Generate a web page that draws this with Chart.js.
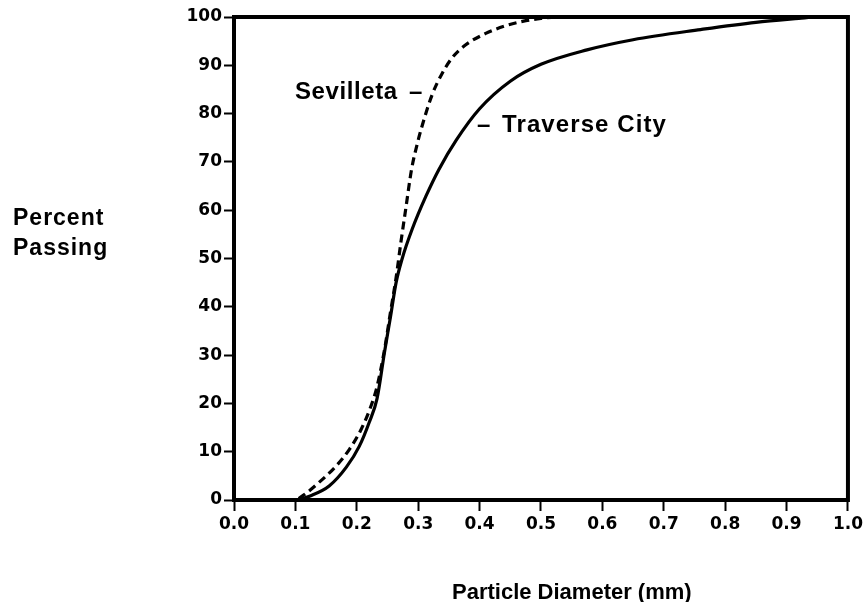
<!DOCTYPE html>
<html>
<head>
<meta charset="utf-8">
<script src="https://cdn.jsdelivr.net/npm/chart.js@4/dist/chart.umd.min.js"></script>
<style>
  html, body { margin: 0; padding: 0; background: #fff; }
  canvas { display: block; background: #fff; }
</style>
</head>
<body>
<canvas id="c" width="866" height="602"></canvas>
<script>
// Cumulative particle-size distributions (percent passing vs. diameter, mm)
const traverseX = [0, 0.10, 0.125, 0.155, 0.183, 0.204, 0.22, 0.233, 0.245, 0.255, 0.264, 0.274, 0.29, 0.313, 0.334, 0.362, 0.40, 0.45, 0.50, 0.575, 0.65, 0.76, 0.85, 0.92, 0.95, 1.0];
const traverseY = [0, 0, 0.9, 2.9, 6.8, 11.1, 16, 21, 30.5, 38, 45, 50, 56, 63, 68.5, 74.5, 81, 86.7, 90.2, 93.2, 95.3, 97.4, 98.9, 99.7, 100, 100];

const sevilletaX = [0, 0.10, 0.111, 0.139, 0.166, 0.188, 0.207, 0.223, 0.233, 0.245, 0.255, 0.264, 0.272, 0.28, 0.289, 0.299, 0.31, 0.323, 0.339, 0.355, 0.378, 0.41, 0.44, 0.47, 0.50, 0.53, 1.0];
const sevilletaY = [0, 0, 0.8, 3.7, 7, 10.5, 14.6, 19.4, 23.5, 31, 39, 46, 53.5, 60.5, 68.3, 74, 79, 84, 88.3, 91.5, 94.3, 96.6, 98.1, 99.1, 99.7, 100, 100];

const xTickLabels = ['0.0', '0.1', '0.2', '0.3', '0.4', '0.5', '0.6', '0.7', '0.8', '0.9', '1.0'];
const yTickLabels = ['0', '10', '20', '30', '40', '50', '60', '70', '80', '90', '100'];

const seriesNames = ['Traverse City', 'Sevilleta'];
const xTitle = 'Particle Diameter (mm)';
const yTitleLines = ['Percent', 'Passing'];

const toPoints = (xs, ys) => xs.map((x, i) => ({ x: x, y: ys[i] }));

const tickFont = { family: 'DejaVu Sans', size: 17, weight: 'bold' };

// Heavy box around the plotting area
const framePlugin = {
  id: 'frame',
  afterDatasetsDraw(chart) {
    const { ctx, chartArea: a } = chart;
    ctx.save();
    ctx.lineWidth = 4;
    ctx.strokeStyle = '#000';
    ctx.strokeRect(a.left, a.top, a.right - a.left, a.bottom - a.top);
    ctx.restore();
  }
};

// Axis titles and curve labels
const textPlugin = {
  id: 'texts',
  afterDraw(chart) {
    const { ctx } = chart;
    ctx.save();
    ctx.fillStyle = '#000';
    ctx.textAlign = 'left';
    ctx.textBaseline = 'alphabetic';

    ctx.font = 'bold 22px "Liberation Sans", Arial, sans-serif';
    ctx.letterSpacing = '0px';
    ctx.fillText(xTitle, 452, 599);

    ctx.font = 'bold 23px "Liberation Sans", Arial, sans-serif';
    ctx.letterSpacing = '1px';
    ctx.fillText(yTitleLines[0], 13, 225);
    ctx.fillText(yTitleLines[1], 13, 255);

    ctx.font = 'bold 24px "Liberation Sans", Arial, sans-serif';
    ctx.letterSpacing = '0.6px';
    ctx.fillText(seriesNames[1], 295, 99);
    ctx.fillText('–', 409, 99);
    ctx.fillText('–', 477, 132);
    ctx.letterSpacing = '1.1px';
    ctx.fillText(seriesNames[0], 502, 132);
    ctx.restore();
  }
};

new Chart(document.getElementById('c'), {
  type: 'line',
  data: {
    datasets: [
      {
        label: seriesNames[0],
        data: toPoints(traverseX, traverseY),
        borderColor: '#000',
        borderWidth: 3.2,
        pointRadius: 0,
        fill: false,
        cubicInterpolationMode: 'monotone'
      },
      {
        label: seriesNames[1],
        data: toPoints(sevilletaX, sevilletaY),
        borderColor: '#000',
        borderWidth: 3.2,
        borderDash: [8, 5],
        pointRadius: 0,
        fill: false,
        cubicInterpolationMode: 'monotone'
      }
    ]
  },
  options: {
    responsive: false,
    animation: false,
    devicePixelRatio: 1,
    layout: { padding: { top: 17, right: 18, left: 0, bottom: 0 } },
    plugins: {
      legend: { display: false },
      tooltip: { enabled: false },
      title: { display: false }
    },
    scales: {
      x: {
        type: 'linear',
        min: 0,
        max: 1,
        afterFit(scale) { scale.height = 102; },
        border: { display: false },
        grid: {
          drawOnChartArea: false,
          drawTicks: true,
          tickLength: 11,
          tickWidth: 2,
          color: '#000'
        },
        ticks: {
          stepSize: 0.1,
          autoSkip: false,
          maxRotation: 0,
          padding: 3,
          color: '#000',
          font: tickFont,
          callback: (v, i) => xTickLabels[i]
        }
      },
      y: {
        type: 'linear',
        min: 0,
        max: 100,
        afterFit(scale) { scale.width = 234; },
        border: { display: false },
        grid: {
          drawOnChartArea: false,
          drawTicks: true,
          tickLength: 10,
          tickWidth: 2,
          color: '#000'
        },
        ticks: {
          stepSize: 10,
          autoSkip: false,
          padding: 2,
          color: '#000',
          font: tickFont,
          callback: (v, i) => yTickLabels[i]
        }
      }
    }
  },
  plugins: [framePlugin, textPlugin]
});
</script>
</body>
</html>
